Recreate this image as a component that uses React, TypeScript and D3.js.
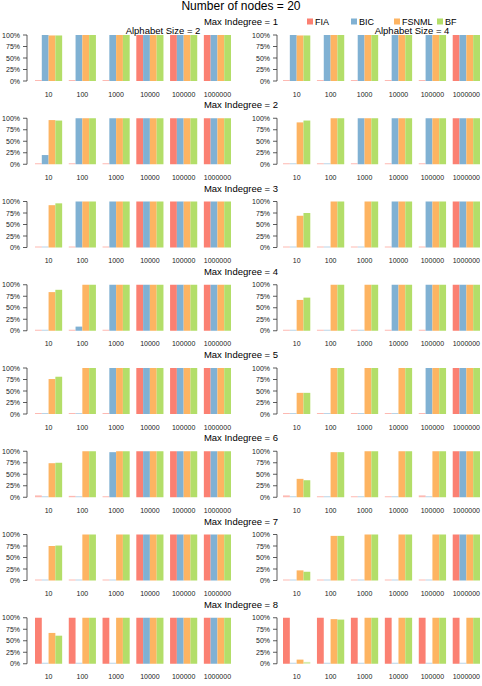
import React, { useEffect, useRef } from "react";
import * as d3 from "d3";

const sampleSizes = ["10", "100", "1000", "10000", "100000", "1000000"];
const methods = ["FIA", "BIC", "FSNML", "BF"];
const methodColors = ["#FB8072", "#80B1D3", "#FDB462", "#B3DE69"];
const indegrees = [1, 2, 3, 4, 5, 6, 7, 8];
const alphabetSizes = [2, 4];
const yTicks = [0, 25, 50, 75, 100];

// percent correct, [indegree][sample size][FIA, BIC, FSNML, BF]
const alpha2 = [
  [[0, 100, 99, 99], [0, 100, 100, 100], [0, 100, 100, 100], [100, 100, 100, 100], [100, 100, 100, 100], [100, 100, 100, 100]],
  [[0, 20, 96, 95], [0, 100, 100, 100], [0, 100, 100, 100], [100, 100, 100, 100], [100, 100, 100, 100], [100, 100, 100, 100]],
  [[0, 0, 92, 96], [0, 100, 100, 100], [0, 100, 100, 100], [100, 100, 100, 100], [100, 100, 100, 100], [100, 100, 100, 100]],
  [[0, 0, 84, 89], [0, 9, 100, 100], [0, 100, 100, 100], [100, 100, 100, 100], [100, 100, 100, 100], [100, 100, 100, 100]],
  [[0, 0, 76, 81], [0, 0, 100, 100], [0, 100, 100, 100], [100, 100, 100, 100], [100, 100, 100, 100], [100, 100, 100, 100]],
  [[4, 2, 74, 75], [3, 2, 100, 100], [0, 98, 100, 100], [100, 100, 100, 100], [100, 100, 100, 100], [100, 100, 100, 100]],
  [[0, 0, 75, 76], [0, 0, 100, 100], [0, 0, 100, 100], [100, 100, 100, 100], [100, 100, 100, 100], [100, 100, 100, 100]],
  [[100, 0, 67, 61], [100, 0, 100, 100], [100, 0, 100, 100], [100, 100, 100, 100], [100, 100, 100, 100], [100, 100, 100, 100]],
];

const alpha4 = [
  [[0, 100, 99, 99], [0, 100, 100, 100], [0, 100, 100, 100], [0, 100, 100, 100], [0, 100, 100, 100], [100, 100, 100, 100]],
  [[0, 0, 91, 95], [0, 0, 100, 100], [0, 100, 100, 100], [0, 100, 100, 100], [0, 100, 100, 100], [100, 100, 100, 100]],
  [[0, 0, 69, 75], [0, 0, 100, 100], [0, 0, 100, 100], [0, 100, 100, 100], [0, 100, 100, 100], [100, 100, 100, 100]],
  [[0, 0, 67, 72], [0, 0, 100, 100], [0, 0, 100, 100], [0, 100, 100, 100], [0, 100, 100, 100], [100, 100, 100, 100]],
  [[0, 0, 46, 46], [0, 0, 100, 100], [0, 0, 100, 100], [0, 0, 100, 100], [0, 100, 100, 100], [100, 100, 100, 100]],
  [[4, 2, 40, 37], [1, 1, 98, 98], [1, 1, 100, 100], [1, 1, 100, 100], [4, 2, 100, 100], [100, 100, 100, 100]],
  [[0, 0, 22, 19], [0, 0, 97, 97], [0, 0, 100, 100], [0, 0, 100, 100], [0, 0, 100, 100], [100, 100, 100, 100]],
  [[100, 0, 9, 4], [100, 0, 97, 96], [100, 0, 100, 100], [100, 0, 100, 100], [100, 0, 100, 100], [100, 0, 100, 100]],
];

const W = 482;
const H = 686;
const FONT = "'Liberation Sans', Arial, sans-serif";

export default function App() {
  const ref = useRef<SVGSVGElement>(null);

  useEffect(() => {
    const svg = d3.select(ref.current);
    svg.selectAll("*").remove();

    svg.append("text")
      .attr("x", W / 2).attr("y", 10)
      .attr("text-anchor", "middle")
      .attr("font-size", 12)
      .text("Number of nodes = 20");

    const rowStep = 83.25;
    const panels = [
      { data: alpha2, axisX: 27, range: [35, 231], labelX: 163 },
      { data: alpha4, axisX: 277, range: [283, 480], labelX: 412 },
    ];

    indegrees.forEach((deg, r) => {
      const top = 35 + r * rowStep;
      const bottom = 81 + r * rowStep;
      const g = svg.append("g");

      g.append("text")
        .attr("x", W / 2).attr("y", 25 + r * rowStep)
        .attr("text-anchor", "middle")
        .attr("font-size", 9.5)
        .text(`Max Indegree = ${deg}`);

      const y = d3.scaleLinear().domain([0, 100]).range([bottom, top]);

      panels.forEach((p, pi) => {
        const x0 = d3.scaleBand().domain(sampleSizes).range(p.range as [number, number])
          .paddingInner(0.196).paddingOuter(0);
        const x1 = d3.scaleBand().domain(methods).range([0, x0.bandwidth()]);
        const color = d3.scaleOrdinal<string>().domain(methods).range(methodColors);

        const rows = p.data[r];
        sampleSizes.forEach((s, si) => {
          const grp = g.append("g").attr("transform", `translate(${x0(s)},0)`);
          grp.selectAll("rect")
            .data(methods.map((m, mi) => ({ m, v: rows[si][mi] })))
            .join("rect")
            .attr("x", (d) => x1(d.m) as number)
            .attr("width", x1.bandwidth())
            .attr("y", (d) => Math.min(y(d.v), bottom - 1))
            .attr("height", (d) => Math.max(bottom - y(d.v), 1))
            .attr("fill", (d) => color(d.m))
            .attr("opacity", (d) => (d.v < 5 ? 0.55 : 1));

          g.append("text")
            .attr("x", (x0(s) as number) + x0.bandwidth() / 2)
            .attr("y", bottom + 15.5)
            .attr("text-anchor", "middle")
            .attr("font-size", 7)
            .attr("fill", "#222")
            .text(s);
        });

        // y axis, R style
        const ax = g.append("g");
        ax.append("line")
          .attr("x1", p.axisX).attr("x2", p.axisX)
          .attr("y1", y(0)).attr("y2", y(100))
          .attr("stroke", "#333").attr("stroke-width", 0.8);
        yTicks.forEach((t) => {
          ax.append("line")
            .attr("x1", p.axisX - 4).attr("x2", p.axisX)
            .attr("y1", y(t)).attr("y2", y(t))
            .attr("stroke", "#333").attr("stroke-width", 0.8);
          ax.append("text")
            .attr("x", p.axisX - 7).attr("y", y(t) + 2.5)
            .attr("text-anchor", "end")
            .attr("font-size", 7)
            .attr("fill", "#222")
            .text(`${t}%`);
        });

        if (r === 0) {
          g.append("text")
            .attr("x", p.labelX).attr("y", 34)
            .attr("text-anchor", "middle")
            .attr("font-size", 9.5)
            .text(`Alphabet Size = ${alphabetSizes[pi]}`);
        }
      });
    });

    // legend
    const legendX = [307, 351, 394, 437];
    const leg = svg.append("g");
    methods.forEach((m, i) => {
      leg.append("rect")
        .attr("x", legendX[i]).attr("y", 18.5)
        .attr("width", 6).attr("height", 6)
        .attr("fill", methodColors[i]);
      leg.append("text")
        .attr("x", legendX[i] + 8).attr("y", 24.5)
        .attr("font-size", 9)
        .text(m);
    });
  }, []);

  return (
    <svg
      ref={ref}
      width={W}
      height={H}
      style={{ position: "absolute", left: 0, top: 0, background: "#fff", fontFamily: FONT }}
    />
  );
}
